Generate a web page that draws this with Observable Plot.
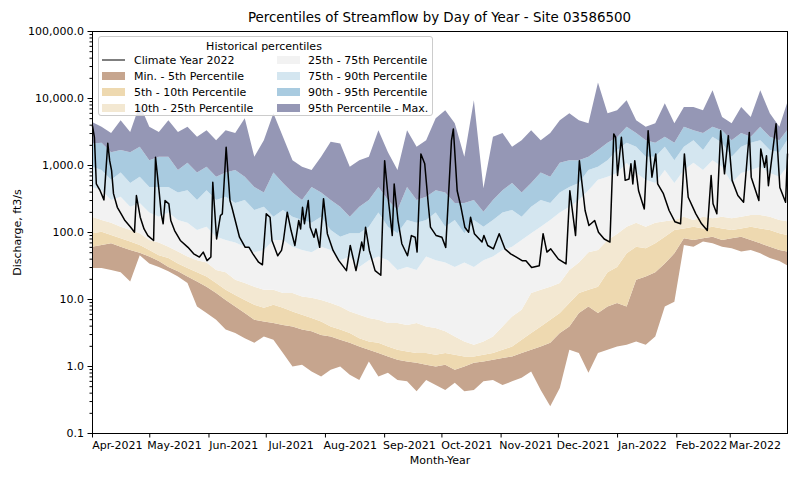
<!DOCTYPE html>
<html><head><meta charset="utf-8">
<script src="https://cdn.jsdelivr.net/npm/d3@7"></script>
<script src="https://cdn.jsdelivr.net/npm/@observablehq/plot@0.6"></script>
<style>
body{margin:0;background:#fff;font-family:"DejaVu Sans",sans-serif;}
#wrap{position:relative;width:800px;height:480px;overflow:hidden;}
#title{position:absolute;left:0;width:879px;text-align:center;top:9.5px;font-size:13.4px;color:#000;white-space:nowrap;}
#legend{position:absolute;left:97.5px;top:35.5px;width:335px;height:80.5px;background:rgba(255,255,255,0.8);border:1px solid #cccccc;border-radius:3px;box-sizing:border-box;}
.lg{position:absolute;font-size:11px;color:#000;white-space:nowrap;transform:translateY(-50%);line-height:1;}
.pt{position:absolute;width:22.7px;height:8px;transform:translateY(-50%);}
.ln{position:absolute;width:22.7px;height:0;border-top:1.6px solid #000;transform:translateY(-50%);}
</style></head><body><div id="wrap"><div id="chart"></div><div id="title"></div><div id="legend"></div></div>
<script>
// ---------- data ----------
const startDate = Date.UTC(2021, 3, 1);            // Apr 1 2021 (climate year 2022 start)
const bandDays = [0,5,10,15,20,25,30,35,40,45,50,55,60,65,70,75,80,85,90,95,100,105,110,115,120,125,130,135,140,145,150,155,160,165,170,175,180,185,190,195,200,205,210,215,220,225,230,235,240,245,250,255,260,265,270,275,280,285,290,295,300,305,310,315,320,325,330,335,340,345,350,355,360,364];

const pMax = [4400,3710,3000,4670,3120,8000,3710,3120,4670,3120,
  3710,2630,3310,2350,3310,3000,5000,1330,2350,5930,
  2630,1180,940,840,1330,2230,2100,940,1180,1330,
  3310,1550,840,3310,1870,2350,5000,6580,4210,1330,
  9270,450,2630,3000,1870,2350,3310,2350,3000,4670,
  5930,4670,4210,17000,5930,6580,9270,4670,3710,4210,
  8370,4210,7370,7370,6580,13000,5220,4210,7370,5220,
  13000,5930,3710,8370];
const p95 = [2100,2150,1550,1670,1550,1870,1180,1330,1330,840,
  1080,770,940,670,770,840,670,470,390,770,
  540,390,300,470,390,300,238,169,238,300,
  470,300,213,470,300,336,420,390,270,270,
  300,200,300,420,540,390,540,770,670,1080,
  1180,1180,1330,1670,2150,2600,3710,3000,2350,2150,
  2630,2150,3710,3310,3000,3710,3310,2350,3000,2630,
  3710,2630,2350,3310];
const p90 = [940,840,600,770,540,670,470,470,470,390,
  420,300,420,300,336,270,300,213,238,169,
  213,169,151,138,169,107,85,96,96,120,
  195,120,96,151,138,151,195,120,151,96,
  151,120,151,195,213,169,238,300,270,390,
  470,540,840,940,1180,1670,2150,1870,1330,1330,
  1870,1180,1870,2350,1670,2630,2150,1330,1870,2150,
  2350,1670,1550,2350];
const p75 = [470,420,300,336,238,270,195,169,195,151,
  138,107,120,85,76,70,60,50,54,76,
  76,60,54,50,60,54,38,43,30,38,
  43,38,27,30,27,43,38,35,30,35,
  30,38,43,54,60,76,96,120,151,195,
  238,300,420,600,670,760,1080,760,600,540,
  840,540,840,1080,840,1180,940,540,760,840,
  940,760,670,940];
const p25 = [169,151,138,120,107,96,76,70,60,51,
  43,38,35,27,25,19.3,17.4,15.3,13.7,13.7,
  12.3,12.3,10.9,10.4,9.7,8.7,7.7,6.5,5.8,5.2,
  4.9,4.4,4.4,4.1,4.4,3.9,3.7,3.3,2.75,2.32,
  2.07,2.32,2.75,3.9,5.5,6.9,12.3,13.7,15.3,17.4,
  27,35,50,54,76,93,120,138,120,138,
  145,151,169,151,169,160,169,160,169,179,
  179,169,151,145];
const p10 = [96,101,90,81,72,64,54,45,41,34,
  29,25,21.6,17.4,13.7,11.5,9.7,8.2,7.4,8.2,
  7.4,6.5,5.8,5.2,4.6,3.9,3.5,3.1,2.6,2.32,
  2.22,1.95,1.75,1.64,1.57,1.57,1.47,1.57,1.47,1.39,
  1.39,1.47,1.57,1.75,1.95,2.46,3.1,3.9,4.9,6.2,
  8.7,12.3,13.7,15.3,25,30,48,60,57,68,
  85,107,113,120,113,120,113,107,113,120,
  113,107,96,90];
const p05 = [60,64,68,60,54,49,43,37,30,26,
  21.6,18.2,15.3,12.3,9.7,7.7,6.2,4.9,4.6,4.4,
  4.1,3.9,3.5,3.3,2.9,2.75,2.46,2.22,1.95,1.75,
  1.57,1.39,1.24,1.17,1.12,1.04,0.98,1.04,0.88,0.98,
  1.12,1.17,1.24,1.32,1.39,1.57,1.75,1.95,2.22,3.1,
  3.9,6.2,7.7,6.2,7.7,8.7,7.7,19.3,21.6,25,
  34,48,81,76,81,85,76,81,85,76,
  68,60,54,51];
const pMin = [29,29,27,25,18.2,45,34,30,26,21.6,
  17.4,7.7,6.2,4.9,3.5,3.1,2.6,2.22,2.75,2.46,
  1.57,0.98,1.04,0.83,0.70,0.88,0.98,0.74,0.62,1.17,
  0.70,0.79,0.62,0.59,0.42,0.62,0.52,0.44,0.56,0.42,
  0.44,0.59,0.62,0.52,0.59,0.67,0.83,0.44,0.25,0.47,
  1.75,1.57,0.79,1.57,1.75,1.95,2.07,2.32,2.07,2.75,
  7.7,9.1,64,60,72,68,60,57,51,54,
  48,41,37,32];

// Climate year 2022 daily discharge (key days)
const flowDays = [0,1,2,4,6,8,9,10,11,13,15,17,20,22,23,25,27,29,32,33,35,36,37,38,40,41,43,46,50,53,56,58,60,62,63,65,67,68,70,72,73,77,80,82,84,87,89,91,93,94,97,99,100,102,104,106,108,109,110,111,113,114,116,117,119,121,123,126,129,133,135,136,138,141,142,143,145,148,151,153,155,157,158,160,162,165,167,169,170,172,174,176,177,180,183,185,188,189,191,193,195,197,198,200,204,205,207,210,213,216,219,222,225,227,230,234,236,238,240,244,248,250,253,255,258,260,263,265,268,271,273,274,275,277,279,281,282,283,284,286,289,291,293,295,296,299,302,305,308,310,312,316,319,322,324,325,327,329,331,333,335,338,341,344,345,349,350,352,353,354,358,360,363,364];
const flowValues = [3900,2630,530,420,307,2150,1180,840,380,238,190,151,120,101,356,169,113,90,76,1330,380,190,135,300,268,151,107,76,60,48,43,51,38,43,560,80,179,190,1870,300,238,85,60,60,48,36,33,190,169,76,45,54,76,201,107,64,151,113,238,135,300,120,85,113,60,320,96,54,38,27,64,48,27,72,54,120,54,27,23,1180,300,90,530,151,68,45,90,85,51,1490,1060,238,120,90,85,60,2350,3510,420,238,120,101,169,96,72,90,64,57,96,57,48,43,38,38,30,32,96,51,57,40,34,420,90,1180,213,127,151,101,80,72,2960,2630,710,2630,600,630,1060,530,1180,420,225,3310,670,1490,530,380,213,145,135,1490,336,190,135,107,710,268,190,3310,750,2790,600,356,283,3120,670,300,1770,940,1400,500,4200,470,283,1490];

const yMajor = [0.1, 1, 10, 100, 1000, 10000, 100000];
const bandNames = ["Min. - 5th Percentile","5th - 10th Percentile","10th - 25th Percentile","25th - 75th Percentile","75th - 90th Percentile","90th - 95th Percentile","95th Percentile - Max."];
const bandColors = ["#c6a58e","#eed9b0","#f3e8d2","#f2f2f2","#d4e6f0","#a9cbe0","#9597b5"];
const lineName = "Climate Year 2022";
const titleText = "Percentiles of Streamflow by Day of Year - Site 03586500";

// ---------- build ----------
const toDate = d => new Date(startDate + d * 864e5);
const bounds = [pMin, p05, p10, p25, p75, p90, p95, pMax];
const bandRows = bandDays.map((d, i) => {
  const r = {date: toDate(d)};
  bounds.forEach((b, k) => r["b" + k] = b[i]);
  return r;
});
const flow = flowDays.map((d, i) => ({date: toDate(d), q: flowValues[i]}));
const months = d3.utcMonth.range(new Date(startDate), new Date(Date.UTC(2022, 3, 1)));
const midMonths = months.map(m => d3.utcDay.offset(m, 13));
const yMinor = [];
for (let e = -1; e < 5; e++) for (let k = 2; k <= 9; k++) yMinor.push(k * Math.pow(10, e));

const bandMarks = bandNames.map((n, k) => Plot.areaY(bandRows, {
  x: "date", y1: "b" + k, y2: "b" + (k + 1), fill: bandColors[k], curve: "linear"
}));

const chart = Plot.plot({
  width: 800, height: 480,
  marginLeft: 92, marginRight: 13, marginTop: 31, marginBottom: 47,
  style: {fontFamily: "DejaVu Sans", fontSize: "11px", color: "#000", background: "#fff"},
  x: {type: "utc", domain: [new Date(startDate), toDate(364)]},
  y: {type: "log", domain: [0.1, 100000]},
  marks: [
    ...bandMarks,
    Plot.line(flow, {x: "date", y: "q", stroke: "#000", strokeWidth: 1.5, curve: "linear"}),
    Plot.axisY({ticks: yMinor, tickFormat: () => "", tickSize: 2.5, label: null}),
    Plot.axisY({ticks: yMajor, tickFormat: d3.format(",.1f"), tickSize: 4.5, tickPadding: 4,
      label: "Discharge, ft3/s", labelAnchor: "center", labelArrow: "none", labelOffset: 79}),
    Plot.axisX({ticks: months, tickFormat: () => "", tickSize: 4.5, label: null}),
    Plot.axisX({ticks: midMonths, tickFormat: d3.utcFormat("%b-%Y"), tickSize: 0, tickPadding: 7.5,
      label: "Month-Year", labelAnchor: "center", labelArrow: "none", labelOffset: 30}),
    Plot.frame({stroke: "#000", strokeWidth: 1})
  ]
});
document.getElementById("chart").appendChild(chart);
document.getElementById("title").textContent = titleText;

// legend (HTML overlay)
const lg = document.getElementById("legend");
const L0 = 97.5, T0 = 35.5;
function addText(txt, x, y, center) {
  const s = document.createElement("div");
  s.className = "lg"; s.textContent = txt;
  s.style.top = (y - T0) + "px";
  if (center) { s.style.left = "0"; s.style.width = "100%"; s.style.textAlign = "center"; s.style.marginLeft = "-1px"; }
  else s.style.left = (x - L0) + "px";
  lg.appendChild(s);
}
function addPatch(color, x, y) {
  const p = document.createElement("div");
  p.className = "pt"; p.style.background = color;
  p.style.left = (x - L0) + "px"; p.style.top = (y - T0) + "px";
  lg.appendChild(p);
}
addText("Historical percentiles", 0, 44.8, true);
const rowsY = [59.3, 75.2, 91, 106.6];
const ln = document.createElement("div");
ln.className = "ln"; ln.style.left = (101.3 - L0) + "px"; ln.style.top = (rowsY[0] - T0) + "px";
lg.appendChild(ln);
addText(lineName, 133, rowsY[0]);
for (let k = 0; k < 3; k++) { addPatch(bandColors[k], 101.3, rowsY[k + 1]); addText(bandNames[k], 133, rowsY[k + 1]); }
for (let k = 3; k < 7; k++) { addPatch(bandColors[k], 276.3, rowsY[k - 3]); addText(bandNames[k], 307, rowsY[k - 3]); }
</script></body></html>
